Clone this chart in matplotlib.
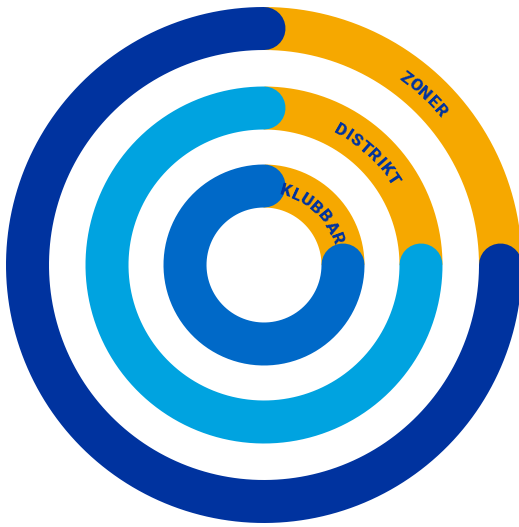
import numpy as np
import matplotlib
matplotlib.use('Agg')
import matplotlib.pyplot as plt
from matplotlib.font_manager import FontProperties

# rings from outside to inside
levels = ['ZONER', 'DISTRIKT', 'KLUBBAR']
orange_share = [25, 25, 25]     # percent of each ring in orange
blue_share = [75, 75, 75]
ring_colors = ['#00339F', '#00A3E0', '#0069C8']
accent = '#F6A800'
text_color = '#00339F'

W, H = 519, 527
cx, cy = 264, 265
radii = [236.5, 157, 79]
band = 43

fig = plt.figure(figsize=(W / 100, H / 100), dpi=100)
ax = fig.add_axes([0, 0, 1, 1])
ax.set_xlim(0, W); ax.set_ylim(H, 0); ax.axis('off')
lw = band * 72 / 100

def arc(r, a0, a1, **kw):
    t = np.radians(np.linspace(a0, a1, 500))
    ax.plot(cx + r * np.cos(t), cy - r * np.sin(t), lw=lw, **kw)

fp = FontProperties(family=['Roboto', 'DejaVu Sans'], weight='black', size=12.5)
renderer = fig.canvas.get_renderer()

for lab, o, b, col, r in zip(levels, orange_share, blue_share, ring_colors, radii):
    start = 90
    o_end = start - 360 * o / 100
    arc(r, start, o_end, color=accent, solid_capstyle='butt')
    arc(r, start, start + 360 * b / 100, color=col, solid_capstyle='round')

    # curved label along the orange part, reading clockwise
    rt = r - 2
    mid = 47
    track = 0.8
    adv = [renderer.get_text_width_height_descent(ch, fp, ismath=False)[0] for ch in lab]
    total = sum(adv) + track * (len(lab) - 1)
    s = -total / 2
    for ch, a in zip(lab, adv):
        sc = s + a / 2
        ang = mid - np.degrees(sc / rt)
        t = np.radians(ang)
        ax.text(cx + rt * np.cos(t), cy - rt * np.sin(t), ch, fontproperties=fp,
                color=text_color, rotation=ang - 90, rotation_mode='anchor',
                ha='center', va='center')
        s += a + track

fig.savefig('out.png', dpi=100)
